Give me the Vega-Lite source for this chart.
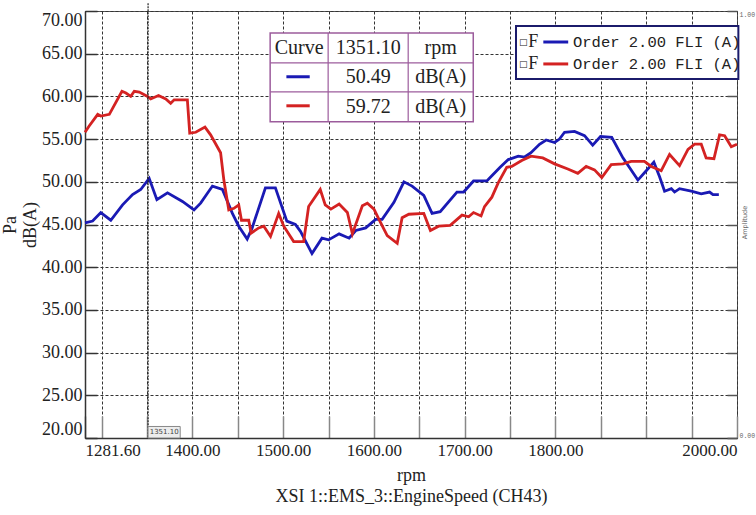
{
  "$schema": "https://vega.github.io/schema/vega-lite/v6.json",
  "width": 652,
  "height": 427,
  "autosize": {"type": "none"},
  "padding": {"left": 85, "top": 11, "right": 19, "bottom": 77},
  "background": "white",
  "config": {"view": {"stroke": "#555", "strokeWidth": 1}, "font": "Liberation Serif"},
  "layer": [
    {
      "layer": [
        {
          "data": {"values": [
            {"series": "F1", "rpm": 1281.6, "level": 45.2}, {"series": "F1", "rpm": 1290, "level": 45.4},
            {"series": "F1", "rpm": 1299, "level": 46.4}, {"series": "F1", "rpm": 1310, "level": 45.5},
            {"series": "F1", "rpm": 1323, "level": 47.3}, {"series": "F1", "rpm": 1334, "level": 48.5},
            {"series": "F1", "rpm": 1343, "level": 49.1}, {"series": "F1", "rpm": 1352.3, "level": 50.4},
            {"series": "F1", "rpm": 1360.8, "level": 47.9}, {"series": "F1", "rpm": 1372.5, "level": 48.7},
            {"series": "F1", "rpm": 1389, "level": 47.7}, {"series": "F1", "rpm": 1401.7, "level": 46.7},
            {"series": "F1", "rpm": 1409, "level": 47.5}, {"series": "F1", "rpm": 1422, "level": 49.5},
            {"series": "F1", "rpm": 1433, "level": 49.1}, {"series": "F1", "rpm": 1444, "level": 46.3},
            {"series": "F1", "rpm": 1451, "level": 44.8}, {"series": "F1", "rpm": 1460.3, "level": 43.3},
            {"series": "F1", "rpm": 1465.8, "level": 44.6}, {"series": "F1", "rpm": 1480.4, "level": 49.3},
            {"series": "F1", "rpm": 1491.4, "level": 49.3}, {"series": "F1", "rpm": 1504, "level": 45.4},
            {"series": "F1", "rpm": 1513.4, "level": 45.0}, {"series": "F1", "rpm": 1519, "level": 44.2},
            {"series": "F1", "rpm": 1531.7, "level": 41.6}, {"series": "F1", "rpm": 1542.7, "level": 43.4},
            {"series": "F1", "rpm": 1550, "level": 43.2}, {"series": "F1", "rpm": 1561.6, "level": 43.9},
            {"series": "F1", "rpm": 1572.6, "level": 43.4}, {"series": "F1", "rpm": 1580, "level": 44.3},
            {"series": "F1", "rpm": 1590.9, "level": 44.6}, {"series": "F1", "rpm": 1601.8, "level": 45.6},
            {"series": "F1", "rpm": 1609, "level": 45.6}, {"series": "F1", "rpm": 1622, "level": 47.6},
            {"series": "F1", "rpm": 1633, "level": 50.0}, {"series": "F1", "rpm": 1642, "level": 49.5},
            {"series": "F1", "rpm": 1654.9, "level": 48.4}, {"series": "F1", "rpm": 1664, "level": 46.3},
            {"series": "F1", "rpm": 1673, "level": 46.5}, {"series": "F1", "rpm": 1691.4, "level": 48.8},
            {"series": "F1", "rpm": 1698.8, "level": 48.8}, {"series": "F1", "rpm": 1709.7, "level": 50.1},
            {"series": "F1", "rpm": 1724.4, "level": 50.1}, {"series": "F1", "rpm": 1729.9, "level": 50.7},
            {"series": "F1", "rpm": 1739, "level": 51.7}, {"series": "F1", "rpm": 1748, "level": 52.6},
            {"series": "F1", "rpm": 1759, "level": 53.0}, {"series": "F1", "rpm": 1766, "level": 52.9},
            {"series": "F1", "rpm": 1773, "level": 53.4}, {"series": "F1", "rpm": 1782.4, "level": 54.4},
            {"series": "F1", "rpm": 1789.7, "level": 54.9}, {"series": "F1", "rpm": 1799, "level": 54.6},
            {"series": "F1", "rpm": 1804.4, "level": 55.0}, {"series": "F1", "rpm": 1810, "level": 55.8},
            {"series": "F1", "rpm": 1821, "level": 55.9}, {"series": "F1", "rpm": 1832, "level": 55.4},
            {"series": "F1", "rpm": 1841, "level": 54.3}, {"series": "F1", "rpm": 1849.6, "level": 55.3},
            {"series": "F1", "rpm": 1862, "level": 55.2}, {"series": "F1", "rpm": 1874.3, "level": 52.8},
            {"series": "F1", "rpm": 1890.8, "level": 50.2}, {"series": "F1", "rpm": 1900, "level": 51.3},
            {"series": "F1", "rpm": 1908.4, "level": 52.3}, {"series": "F1", "rpm": 1914.7, "level": 50.6},
            {"series": "F1", "rpm": 1920.2, "level": 48.9}, {"series": "F1", "rpm": 1927.6, "level": 49.2},
            {"series": "F1", "rpm": 1931.2, "level": 48.8}, {"series": "F1", "rpm": 1936.7, "level": 49.2},
            {"series": "F1", "rpm": 1949.6, "level": 48.9}, {"series": "F1", "rpm": 1960.6, "level": 48.6},
            {"series": "F1", "rpm": 1969.8, "level": 48.8}, {"series": "F1", "rpm": 1973.5, "level": 48.5},
            {"series": "F1", "rpm": 1980, "level": 48.5},
            {"series": "F2", "rpm": 1281.6, "level": 55.8}, {"series": "F2", "rpm": 1286, "level": 56.5},
            {"series": "F2", "rpm": 1295.6, "level": 57.9}, {"series": "F2", "rpm": 1299, "level": 57.7},
            {"series": "F2", "rpm": 1308.4, "level": 57.9}, {"series": "F2", "rpm": 1322.3, "level": 60.6},
            {"series": "F2", "rpm": 1326.7, "level": 60.4}, {"series": "F2", "rpm": 1332, "level": 60.0},
            {"series": "F2", "rpm": 1335.9, "level": 60.6}, {"series": "F2", "rpm": 1341.4, "level": 60.5},
            {"series": "F2", "rpm": 1350.5, "level": 60.0}, {"series": "F2", "rpm": 1354, "level": 59.7},
            {"series": "F2", "rpm": 1362.6, "level": 60.1}, {"series": "F2", "rpm": 1370.6, "level": 59.7},
            {"series": "F2", "rpm": 1376, "level": 59.2}, {"series": "F2", "rpm": 1379.8, "level": 59.6},
            {"series": "F2", "rpm": 1394.4, "level": 59.6}, {"series": "F2", "rpm": 1397, "level": 55.7},
            {"series": "F2", "rpm": 1403.6, "level": 55.8}, {"series": "F2", "rpm": 1413.8, "level": 56.4},
            {"series": "F2", "rpm": 1420, "level": 55.5}, {"series": "F2", "rpm": 1431, "level": 53.4},
            {"series": "F2", "rpm": 1434.6, "level": 50.2}, {"series": "F2", "rpm": 1440, "level": 46.7},
            {"series": "F2", "rpm": 1445.7, "level": 46.9}, {"series": "F2", "rpm": 1451, "level": 47.3},
            {"series": "F2", "rpm": 1454, "level": 45.5}, {"series": "F2", "rpm": 1462, "level": 45.5},
            {"series": "F2", "rpm": 1464.7, "level": 44.0}, {"series": "F2", "rpm": 1473, "level": 44.6},
            {"series": "F2", "rpm": 1478.6, "level": 44.8}, {"series": "F2", "rpm": 1486, "level": 43.6},
            {"series": "F2", "rpm": 1495, "level": 46.3}, {"series": "F2", "rpm": 1500.6, "level": 44.8},
            {"series": "F2", "rpm": 1511.5, "level": 43.0}, {"series": "F2", "rpm": 1522.5, "level": 43.0},
            {"series": "F2", "rpm": 1528, "level": 47.1}, {"series": "F2", "rpm": 1540.8, "level": 49.1},
            {"series": "F2", "rpm": 1546.3, "level": 47.3}, {"series": "F2", "rpm": 1552.5, "level": 46.8},
            {"series": "F2", "rpm": 1561.6, "level": 47.4}, {"series": "F2", "rpm": 1570.7, "level": 46.4},
            {"series": "F2", "rpm": 1576.2, "level": 43.9}, {"series": "F2", "rpm": 1587.2, "level": 47.2},
            {"series": "F2", "rpm": 1592.7, "level": 47.5}, {"series": "F2", "rpm": 1600, "level": 46.8},
            {"series": "F2", "rpm": 1605.5, "level": 45.6}, {"series": "F2", "rpm": 1614.6, "level": 43.7},
            {"series": "F2", "rpm": 1625.6, "level": 42.8}, {"series": "F2", "rpm": 1631, "level": 45.8},
            {"series": "F2", "rpm": 1638.4, "level": 46.2}, {"series": "F2", "rpm": 1654.9, "level": 46.3},
            {"series": "F2", "rpm": 1662.2, "level": 44.3}, {"series": "F2", "rpm": 1671.3, "level": 44.8},
            {"series": "F2", "rpm": 1684, "level": 44.9}, {"series": "F2", "rpm": 1697, "level": 46.1},
            {"series": "F2", "rpm": 1704.3, "level": 45.9}, {"series": "F2", "rpm": 1709.7, "level": 46.4},
            {"series": "F2", "rpm": 1718, "level": 46.0}, {"series": "F2", "rpm": 1721.8, "level": 47.1},
            {"series": "F2", "rpm": 1729.9, "level": 48.2}, {"series": "F2", "rpm": 1737, "level": 49.9},
            {"series": "F2", "rpm": 1746.3, "level": 51.7}, {"series": "F2", "rpm": 1751.8, "level": 51.8},
            {"series": "F2", "rpm": 1762.8, "level": 52.5}, {"series": "F2", "rpm": 1773, "level": 53.0},
            {"series": "F2", "rpm": 1786, "level": 52.8}, {"series": "F2", "rpm": 1799, "level": 52.1},
            {"series": "F2", "rpm": 1813.6, "level": 51.5}, {"series": "F2", "rpm": 1824.6, "level": 51.0},
            {"series": "F2", "rpm": 1833.8, "level": 51.8}, {"series": "F2", "rpm": 1843, "level": 51.4},
            {"series": "F2", "rpm": 1851, "level": 50.5}, {"series": "F2", "rpm": 1861.4, "level": 52.0},
            {"series": "F2", "rpm": 1874.3, "level": 52.1}, {"series": "F2", "rpm": 1883.4, "level": 52.4},
            {"series": "F2", "rpm": 1898, "level": 52.4}, {"series": "F2", "rpm": 1905.5, "level": 51.8},
            {"series": "F2", "rpm": 1916.5, "level": 51.3}, {"series": "F2", "rpm": 1925.7, "level": 53.2},
            {"series": "F2", "rpm": 1936.7, "level": 51.9}, {"series": "F2", "rpm": 1946, "level": 53.8},
            {"series": "F2", "rpm": 1953.3, "level": 54.4}, {"series": "F2", "rpm": 1960.6, "level": 54.4},
            {"series": "F2", "rpm": 1966, "level": 52.8}, {"series": "F2", "rpm": 1974.6, "level": 52.7},
            {"series": "F2", "rpm": 1980.8, "level": 55.5}, {"series": "F2", "rpm": 1986.4, "level": 55.4},
            {"series": "F2", "rpm": 1993.7, "level": 54.1}, {"series": "F2", "rpm": 2000, "level": 54.4}
          ]},
          "mark": {"type": "line", "strokeWidth": 2.8},
          "encoding": {
            "x": {
              "field": "rpm", "type": "quantitative",
              "scale": {"domain": [1281.6, 2000], "nice": false, "zero": false},
              "axis": {
                "values": [1281.6, 1300, 1350, 1400, 1450, 1500, 1550, 1600, 1650, 1700, 1750, 1800, 1850, 1900, 1950, 2000],
                "labelExpr": "indexof([1281.6, 1400, 1500, 1600, 1700, 1800, 2000], datum.value) >= 0 ? format(datum.value, '.2f') : ''",
                "labelFlush": true, "labelFont": "Liberation Serif", "labelFontSize": 17, "labelColor": "#222",
                "labelPadding": 26, "tickSize": -22, "tickColor": "#888", "tickWidth": 1.5,
                "grid": true, "gridDash": [3, 2], "gridColor": "#333", "gridWidth": 1,
                "domainColor": "#333", "domainWidth": 1.5,
                "title": ["rpm", "XSI 1::EMS_3::EngineSpeed (CH43)"],
                "titleFont": "Liberation Serif", "titleFontSize": 18, "titleFontWeight": "normal",
                "titleLineHeight": 21, "titlePadding": 8, "titleColor": "#222"
              }
            },
            "y": {
              "field": "level", "type": "quantitative",
              "scale": {"domain": [20, 70], "nice": false, "zero": false},
              "axis": {
                "values": [20, 22.5, 25, 27.5, 30, 32.5, 35, 37.5, 40, 42.5, 45, 47.5, 50, 52.5, 55, 57.5, 60, 62.5, 65, 67.5, 70],
                "labelExpr": "datum.value % 5 == 0 ? format(datum.value, '.2f') : ''",
                "labelFlush": true, "labelFont": "Liberation Serif", "labelFontSize": 18, "labelColor": "#222",
                "labelPadding": 15, "tickSize": -12, "tickColor": "#333", "tickWidth": 1.5,
                "tickOpacity": {"condition": {"test": "datum.value % 5 != 0", "value": 0}, "value": 1},
                "grid": true, "gridDash": [3, 2], "gridColor": "#333", "gridWidth": 1,
                "domainColor": "#333", "domainWidth": 1.5,
                "title": ["Pa", "dB(A)"],
                "titleFont": "Liberation Serif", "titleFontSize": 18, "titleFontWeight": "normal",
                "titleLineHeight": 20, "titlePadding": 2, "titleColor": "#222"
              }
            },
            "color": {
              "field": "series", "type": "nominal",
              "scale": {"domain": ["F1", "F2"], "range": ["#1a1ab4", "#d42222"]},
              "legend": null
            }
          }
        },
        {
          "data": {"values": [{}]},
          "mark": {"type": "rule", "color": "#222", "strokeWidth": 1.2, "strokeDash": [2, 1]},
          "encoding": {"x": {"datum": 1351.1}, "y": {"datum": 70.9}, "y2": {"datum": 20}}
        },
        {
          "data": {"values": [{}]},
          "mark": {"type": "rect", "fill": "#ececec", "stroke": "#888", "strokeWidth": 1},
          "encoding": {"x": {"datum": 1351.1}, "x2": {"datum": 1386.5}, "y": {"datum": 21.35}, "y2": {"datum": 20}}
        },
        {
          "data": {"values": [{}]},
          "mark": {"type": "text", "font": "DejaVu Sans", "fontSize": 7, "color": "#444", "align": "center", "baseline": "middle"},
          "encoding": {"x": {"datum": 1368.8}, "y": {"datum": 20.67}, "text": {"value": "1351.10"}}
        },
        {
          "data": {"values": [{}]},
          "mark": {"type": "rect", "fill": "white", "stroke": "#9c5c9c", "strokeWidth": 1.5},
          "encoding": {"x": {"datum": 1485.6}, "x2": {"datum": 1709.4}, "y": {"datum": 67.43}, "y2": {"datum": 57.02}}
        },
        {
          "data": {"values": [{"pos": 1549.5}, {"pos": 1637.7}]},
          "mark": {"type": "rule", "color": "#9c5c9c", "strokeWidth": 1.2},
          "encoding": {"x": {"field": "pos", "type": "quantitative"}, "y": {"datum": 67.43}, "y2": {"datum": 57.02}}
        },
        {
          "data": {"values": [{"pos": 63.92}, {"pos": 60.53}]},
          "mark": {"type": "rule", "color": "#9c5c9c", "strokeWidth": 1.2},
          "encoding": {"y": {"field": "pos", "type": "quantitative"}, "x": {"datum": 1485.6}, "x2": {"datum": 1709.4}}
        },
        {
          "data": {"values": [{}]},
          "mark": {"type": "text", "fontSize": 20, "color": "#222", "align": "center", "baseline": "middle"},
          "encoding": {"x": {"datum": 1517.5}, "y": {"datum": 65.67}, "text": {"value": "Curve"}}
        },
        {
          "data": {"values": [{}]},
          "mark": {"type": "text", "fontSize": 20, "color": "#222", "align": "center", "baseline": "middle", "lineHeight": 29.5},
          "encoding": {"x": {"datum": 1593.6}, "y": {"datum": 65.67}, "text": {"value": ["1351.10", "50.49", "59.72"]}}
        },
        {
          "data": {"values": [{}]},
          "mark": {"type": "text", "fontSize": 20, "color": "#222", "align": "center", "baseline": "middle", "lineHeight": 29.5},
          "encoding": {"x": {"datum": 1673.5}, "y": {"datum": 65.67}, "text": {"value": ["rpm", "dB(A)", "dB(A)"]}}
        },
        {
          "data": {"values": [{"series": "F1", "lev": 62.3}, {"series": "F2", "lev": 58.9}]},
          "mark": {"type": "rule", "strokeWidth": 3},
          "encoding": {
            "x": {"datum": 1503.5}, "x2": {"datum": 1529.2},
            "y": {"field": "lev", "type": "quantitative"},
            "color": {"field": "series", "type": "nominal", "legend": null}
          }
        },
        {
          "data": {"values": [{}]},
          "mark": {"type": "rect", "fill": "white", "stroke": "#1b1b6b", "strokeWidth": 2},
          "encoding": {"x": {"datum": 1756.5}, "x2": {"datum": 2001.5}, "y": {"datum": 68.25}, "y2": {"datum": 62.05}}
        },
        {
          "data": {"values": [{}]},
          "mark": {"type": "text", "font": "DejaVu Sans", "fontSize": 9, "color": "#222", "align": "center", "baseline": "middle", "lineHeight": 22},
          "encoding": {"x": {"datum": 1764.5}, "y": {"datum": 66.37}, "text": {"value": ["□", "□"]}}
        },
        {
          "data": {"values": [{}]},
          "mark": {"type": "text", "fontSize": 18, "color": "#222", "align": "center", "baseline": "middle", "lineHeight": 22},
          "encoding": {"x": {"datum": 1775.5}, "y": {"datum": 66.37}, "text": {"value": ["F", "F"]}}
        },
        {
          "data": {"values": [{"series": "F1", "lev": 66.37}, {"series": "F2", "lev": 63.8}]},
          "mark": {"type": "rule", "strokeWidth": 3},
          "encoding": {
            "x": {"datum": 1786.6}, "x2": {"datum": 1814},
            "y": {"field": "lev", "type": "quantitative"},
            "color": {"field": "series", "type": "nominal", "legend": null}
          }
        },
        {
          "data": {"values": [{}]},
          "mark": {"type": "text", "font": "Liberation Mono", "fontSize": 15.5, "color": "#222", "align": "left", "baseline": "middle", "lineHeight": 22},
          "encoding": {"x": {"datum": 1819.3}, "y": {"datum": 66.37}, "text": {"value": ["Order 2.00 FLI (A)", "Order 2.00 FLI (A)"]}}
        }
      ]
    },
    {
      "data": {"values": [{"amp": 0}, {"amp": 1}]},
      "mark": {"type": "rule", "strokeOpacity": 0},
      "encoding": {
        "y": {
          "field": "amp", "type": "quantitative",
          "scale": {"domain": [0, 1], "nice": false, "zero": false},
          "axis": {
            "orient": "right",
            "values": [0, 0.1, 0.2, 0.3, 0.4, 0.5, 0.6, 0.7, 0.8, 0.9, 1],
            "labelExpr": "datum.value == 0 || datum.value == 1 ? format(datum.value, '.2f') : ''",
            "labelFlush": true, "labelFont": "Liberation Mono", "labelFontSize": 6.5, "labelColor": "#666",
            "labelPadding": 12, "tickSize": -10, "tickColor": "#555", "tickWidth": 1.5,
            "domain": false, "grid": false,
            "title": "Amplitude", "titleFont": "DejaVu Sans", "titleFontSize": 6.5, "titleFontWeight": "normal",
            "titleColor": "#666", "titleAngle": 270, "titleX": 7, "titleY": 211,
            "titleAlign": "center", "titleBaseline": "middle"
          }
        }
      }
    }
  ],
  "resolve": {"scale": {"y": "independent"}}
}
